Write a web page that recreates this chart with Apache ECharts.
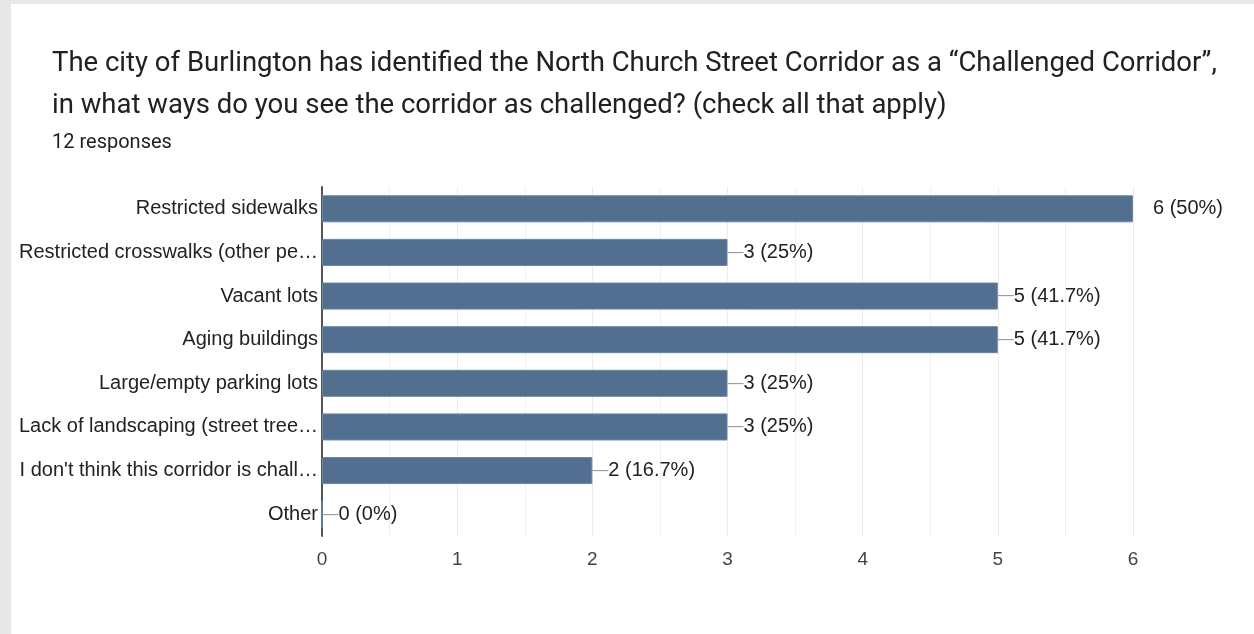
<!DOCTYPE html>
<html>
<head>
<meta charset="utf-8">
<script src="https://cdn.jsdelivr.net/npm/echarts@6/dist/echarts.min.js"></script>
<style>
  html, body { margin: 0; padding: 0; background: #e8e8e8; }
  #chart { position: absolute; left: 11px; top: 4px; width: 1243px; height: 630px; background: #fff; }
</style>
</head>
<body>
<div id="chart"></div>
<script>
const categories = [
  'Restricted sidewalks',
  'Restricted crosswalks (other pe…',
  'Vacant lots',
  'Aging buildings',
  'Large/empty parking lots',
  'Lack of landscaping (street tree…',
  "I don't think this corridor is chall…",
  'Other'
];
const counts = [6, 3, 5, 5, 3, 3, 2, 0];
const percents = ['50%', '25%', '41.7%', '41.7%', '25%', '25%', '16.7%', '0%'];
const xTicks = [0, 1, 2, 3, 4, 5, 6];

const barData = counts.map((v, i) => {
  const item = { value: v };
  if (v === Math.max(...counts)) {
    item.label = {
      distance: 20,
      formatter: () => '{t|' + v + ' (' + percents[i] + ')}'
    };
  }
  return item;
});

const chart = echarts.init(document.getElementById('chart'));
chart.setOption({
  animation: false,
  title: {
    left: 36,
    top: 34,
    text: 'The city of Burlington has identified the North Church Street Corridor as a \u201cChallenged Corridor\u201d,\nin what ways do you see the corridor as challenged? (check all that apply)',
    textStyle: { fontFamily: 'Roboto', fontSize: 27.5, fontWeight: 'normal', color: '#202124', lineHeight: 42 },
    subtext: '12 responses',
    subtextStyle: { fontFamily: 'Roboto', fontSize: 20, color: '#202124' },
    itemGap: 6
  },
  grid: { left: 311, right: 121, top: 183, bottom: 98 },
  xAxis: {
    type: 'value',
    min: 0,
    max: 6,
    interval: 1,
    axisLine: { show: false },
    axisTick: { show: false },
    axisLabel: {
      fontFamily: 'Liberation Sans', fontSize: 19, color: '#444', margin: 14,
      formatter: v => xTicks.includes(v) ? String(v) : ''
    },
    splitLine: { lineStyle: { color: '#ececec', width: 1 } },
    minorTick: { show: false, splitNumber: 2 },
    minorSplitLine: { show: true, lineStyle: { color: '#f0f0f0', width: 1 } }
  },
  yAxis: {
    type: 'category',
    inverse: true,
    data: categories,
    axisLine: { show: true, lineStyle: { color: '#555', width: 2 } },
    axisTick: { show: false },
    axisLabel: { fontFamily: 'Liberation Sans', fontSize: 20, color: '#222', margin: 4 },
    splitLine: { show: false }
  },
  series: [{
    type: 'bar',
    data: barData,
    barWidth: '62%',
    itemStyle: { color: '#536f90', borderColor: '#6a86a8', borderWidth: 1 },
    label: {
      show: true,
      position: 'right',
      distance: 0,
      formatter: p => '{d|\u2014}{t|' + p.value + ' (' + percents[p.dataIndex] + ')}',
      rich: {
        d: { fontFamily: 'Liberation Sans', fontSize: 16, color: '#9a9a9a' },
        t: { fontFamily: 'Liberation Sans', fontSize: 20, color: '#222' }
      }
    }
  }]
});
</script>
</body>
</html>
